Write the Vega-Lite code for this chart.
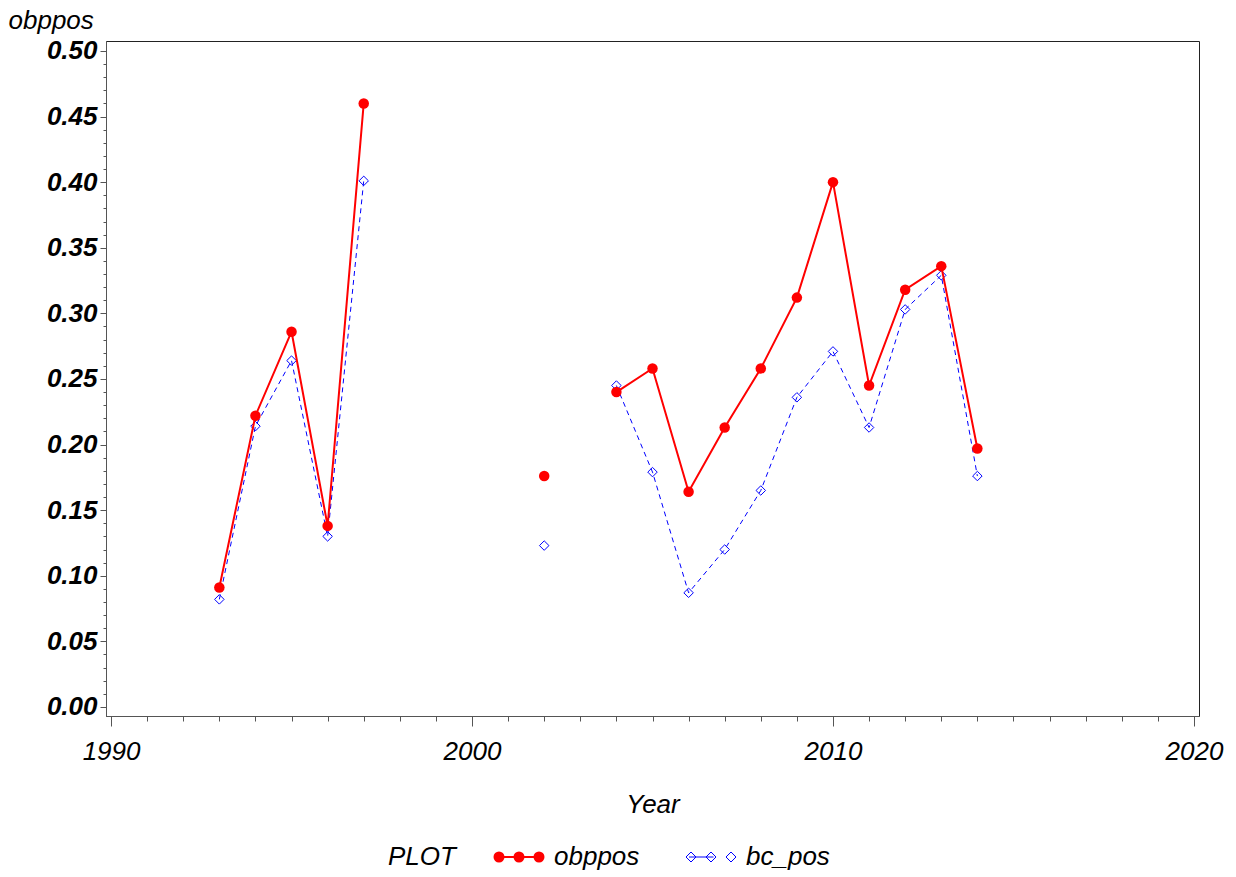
{
  "$schema": "https://vega.github.io/schema/vega-lite/v6.json",
  "width": 1093,
  "height": 675,
  "autosize": {"type": "none"},
  "padding": {"left": 106, "top": 41, "right": 37, "bottom": 161},
  "background": "white",
  "config": {
    "view": {"stroke": "#222", "strokeWidth": 1},
    "font": "Liberation Sans",
    "axis": {
      "domainColor": "#555",
      "tickColor": "#555",
      "grid": false,
      "labelFont": "Liberation Sans",
      "titleFont": "Liberation Sans",
      "labelFontSize": 26,
      "titleFontSize": 26,
      "labelFontStyle": "italic",
      "titleFontStyle": "italic",
      "titleFontWeight": "normal",
      "labelColor": "#000",
      "titleColor": "#000"
    }
  },
  "data": {
    "values": [
      {"Year": 1993, "series": "obppos", "value": 0.091},
      {"Year": 1994, "series": "obppos", "value": 0.222},
      {"Year": 1995, "series": "obppos", "value": 0.286},
      {"Year": 1996, "series": "obppos", "value": 0.138},
      {"Year": 1997, "series": "obppos", "value": 0.460},
      {"Year": 1998, "series": "obppos", "value": null},
      {"Year": 1999, "series": "obppos", "value": null},
      {"Year": 2000, "series": "obppos", "value": null},
      {"Year": 2001, "series": "obppos", "value": null},
      {"Year": 2002, "series": "obppos", "value": 0.176},
      {"Year": 2003, "series": "obppos", "value": null},
      {"Year": 2004, "series": "obppos", "value": 0.240},
      {"Year": 2005, "series": "obppos", "value": 0.258},
      {"Year": 2006, "series": "obppos", "value": 0.164},
      {"Year": 2007, "series": "obppos", "value": 0.213},
      {"Year": 2008, "series": "obppos", "value": 0.258},
      {"Year": 2009, "series": "obppos", "value": 0.312},
      {"Year": 2010, "series": "obppos", "value": 0.400},
      {"Year": 2011, "series": "obppos", "value": 0.245},
      {"Year": 2012, "series": "obppos", "value": 0.318},
      {"Year": 2013, "series": "obppos", "value": 0.336},
      {"Year": 2014, "series": "obppos", "value": 0.197},
      {"Year": 1993, "series": "bc_pos", "value": 0.082},
      {"Year": 1994, "series": "bc_pos", "value": 0.214},
      {"Year": 1995, "series": "bc_pos", "value": 0.264},
      {"Year": 1996, "series": "bc_pos", "value": 0.130},
      {"Year": 1997, "series": "bc_pos", "value": 0.401},
      {"Year": 1998, "series": "bc_pos", "value": null},
      {"Year": 1999, "series": "bc_pos", "value": null},
      {"Year": 2000, "series": "bc_pos", "value": null},
      {"Year": 2001, "series": "bc_pos", "value": null},
      {"Year": 2002, "series": "bc_pos", "value": 0.123},
      {"Year": 2003, "series": "bc_pos", "value": null},
      {"Year": 2004, "series": "bc_pos", "value": 0.245},
      {"Year": 2005, "series": "bc_pos", "value": 0.179},
      {"Year": 2006, "series": "bc_pos", "value": 0.087},
      {"Year": 2007, "series": "bc_pos", "value": 0.120},
      {"Year": 2008, "series": "bc_pos", "value": 0.165},
      {"Year": 2009, "series": "bc_pos", "value": 0.236},
      {"Year": 2010, "series": "bc_pos", "value": 0.271},
      {"Year": 2011, "series": "bc_pos", "value": 0.213},
      {"Year": 2012, "series": "bc_pos", "value": 0.303},
      {"Year": 2013, "series": "bc_pos", "value": 0.329},
      {"Year": 2014, "series": "bc_pos", "value": 0.176}
    ]
  },
  "encoding": {
    "x": {
      "field": "Year",
      "type": "quantitative",
      "scale": {"domain": [1989.86, 2020.14], "nice": false, "zero": false},
      "axis": {
        "title": "Year",
        "values": [1990,1991,1992,1993,1994,1995,1996,1997,1998,1999,2000,2001,2002,2003,2004,2005,2006,2007,2008,2009,2010,2011,2012,2013,2014,2015,2016,2017,2018,2019,2020],
        "labelExpr": "datum.value % 10 === 0 ? format(datum.value, 'd') : ''",
        "tickSize": {"condition": {"test": "datum.value % 10 === 0", "value": 10}, "value": 5},
        "labelPadding": 12,
        "labelOverlap": false,
        "labelFlush": false,
        "labelBound": false,
        "titleY": 96,
        "titleBaseline": "alphabetic"
      }
    },
    "y": {
      "field": "value",
      "type": "quantitative",
      "scale": {"domain": [-0.0069, 0.5076], "nice": false, "zero": false},
      "axis": {
        "title": "obppos",
        "values": [0,0.01,0.02,0.03,0.04,0.05,0.06,0.07,0.08,0.09,0.1,0.11,0.12,0.13,0.14,0.15,0.16,0.17,0.18,0.19,0.2,0.21,0.22,0.23,0.24,0.25,0.26,0.27,0.28,0.29,0.3,0.31,0.32,0.33,0.34,0.35,0.36,0.37,0.38,0.39,0.4,0.41,0.42,0.43,0.44,0.45,0.46,0.47,0.48,0.49,0.5],
        "labelExpr": "round(datum.value * 100) % 5 === 0 ? format(datum.value, '.2f') : ''",
        "tickSize": {"condition": {"test": "round(datum.value * 100) % 5 === 0", "value": 6}, "value": 3},
        "labelPadding": 3,
        "labelFontWeight": "bold",
        "labelFontStyle": "italic",
        "labelOverlap": false,
        "labelFlush": false,
        "titleAngle": 0,
        "titleAlign": "left",
        "titleBaseline": "middle",
        "titleX": -98,
        "titleY": -21
      }
    },
    "color": {
      "field": "series",
      "type": "nominal",
      "scale": {"domain": ["obppos", "bc_pos"], "range": ["#ff0000", "#0000ff"]},
      "legend": {
        "title": "PLOT",
        "orient": "none",
        "legendX": 282,
        "legendY": 803,
        "direction": "horizontal",
        "titleOrient": "left",
        "titleFont": "Liberation Sans",
        "titleFontSize": 26,
        "titleFontStyle": "italic",
        "titleFontWeight": "normal",
        "titleColor": "#000",
        "titleBaseline": "middle",
        "titlePadding": 50,
        "labelFont": "Liberation Sans",
        "labelFontSize": 26,
        "labelFontStyle": "italic",
        "labelColor": "#000",
        "labelOffset": 22,
        "columnPadding": 44,
        "symbolSize": 2500,
        "padding": 0,
        "encode": {
          "symbols": {
            "update": {
              "shape": {"signal": "datum.value === 'obppos' ? 'M-0.8,0L0.8,0M-0.98,0A0.18,0.18,0,1,0,-0.62,0A0.18,0.18,0,1,0,-0.98,0ZM-0.18,0A0.18,0.18,0,1,0,0.18,0A0.18,0.18,0,1,0,-0.18,0ZM0.62,0A0.18,0.18,0,1,0,0.98,0A0.18,0.18,0,1,0,0.62,0Z' : 'M-1,0L-0.8,-0.2L-0.6,0L-0.8,0.2L-1,0L-0.8,0.2L-0.6,0L-0.8,-0.2ZM-0.2,0L0,-0.2L0.2,0L0,0.2L-0.2,0L0,0.2L0.2,0L0,-0.2ZM0.6,0L0.8,-0.2L1,0L0.8,0.2L0.6,0L0.8,0.2L1,0L0.8,-0.2ZM-0.88,0L0.1,0'"},
              "fill": {"signal": "datum.value === 'obppos' ? '#ff0000' : '#ffffff'"},
              "fillOpacity": {"signal": "datum.value === 'obppos' ? 1 : 0"},
              "stroke": {"signal": "datum.value === 'obppos' ? '#ff0000' : '#0000ff'"},
              "strokeWidth": {"signal": "datum.value === 'obppos' ? 2 : 1"},
              "strokeDash": {"value": []},
              "opacity": {"value": 1}
            }
          }
        }
      }
    }
  },
  "layer": [
    {
      "transform": [{"filter": "datum.series === 'bc_pos'"}],
      "mark": {"type": "line", "strokeWidth": 1, "strokeDash": [5, 4], "invalid": "break-paths-show-domains"}
    },
    {
      "transform": [{"filter": "datum.series === 'bc_pos'"}],
      "mark": {"type": "point", "shape": "diamond", "size": 90, "filled": false, "fill": "white", "fillOpacity": 0, "strokeWidth": 1, "opacity": 1}
    },
    {
      "transform": [{"filter": "datum.series === 'obppos'"}],
      "mark": {"type": "line", "strokeWidth": 2, "invalid": "break-paths-show-domains"}
    },
    {
      "transform": [{"filter": "datum.series === 'obppos'"}],
      "mark": {"type": "point", "shape": "circle", "size": 110, "filled": true, "opacity": 1}
    }
  ]
}
